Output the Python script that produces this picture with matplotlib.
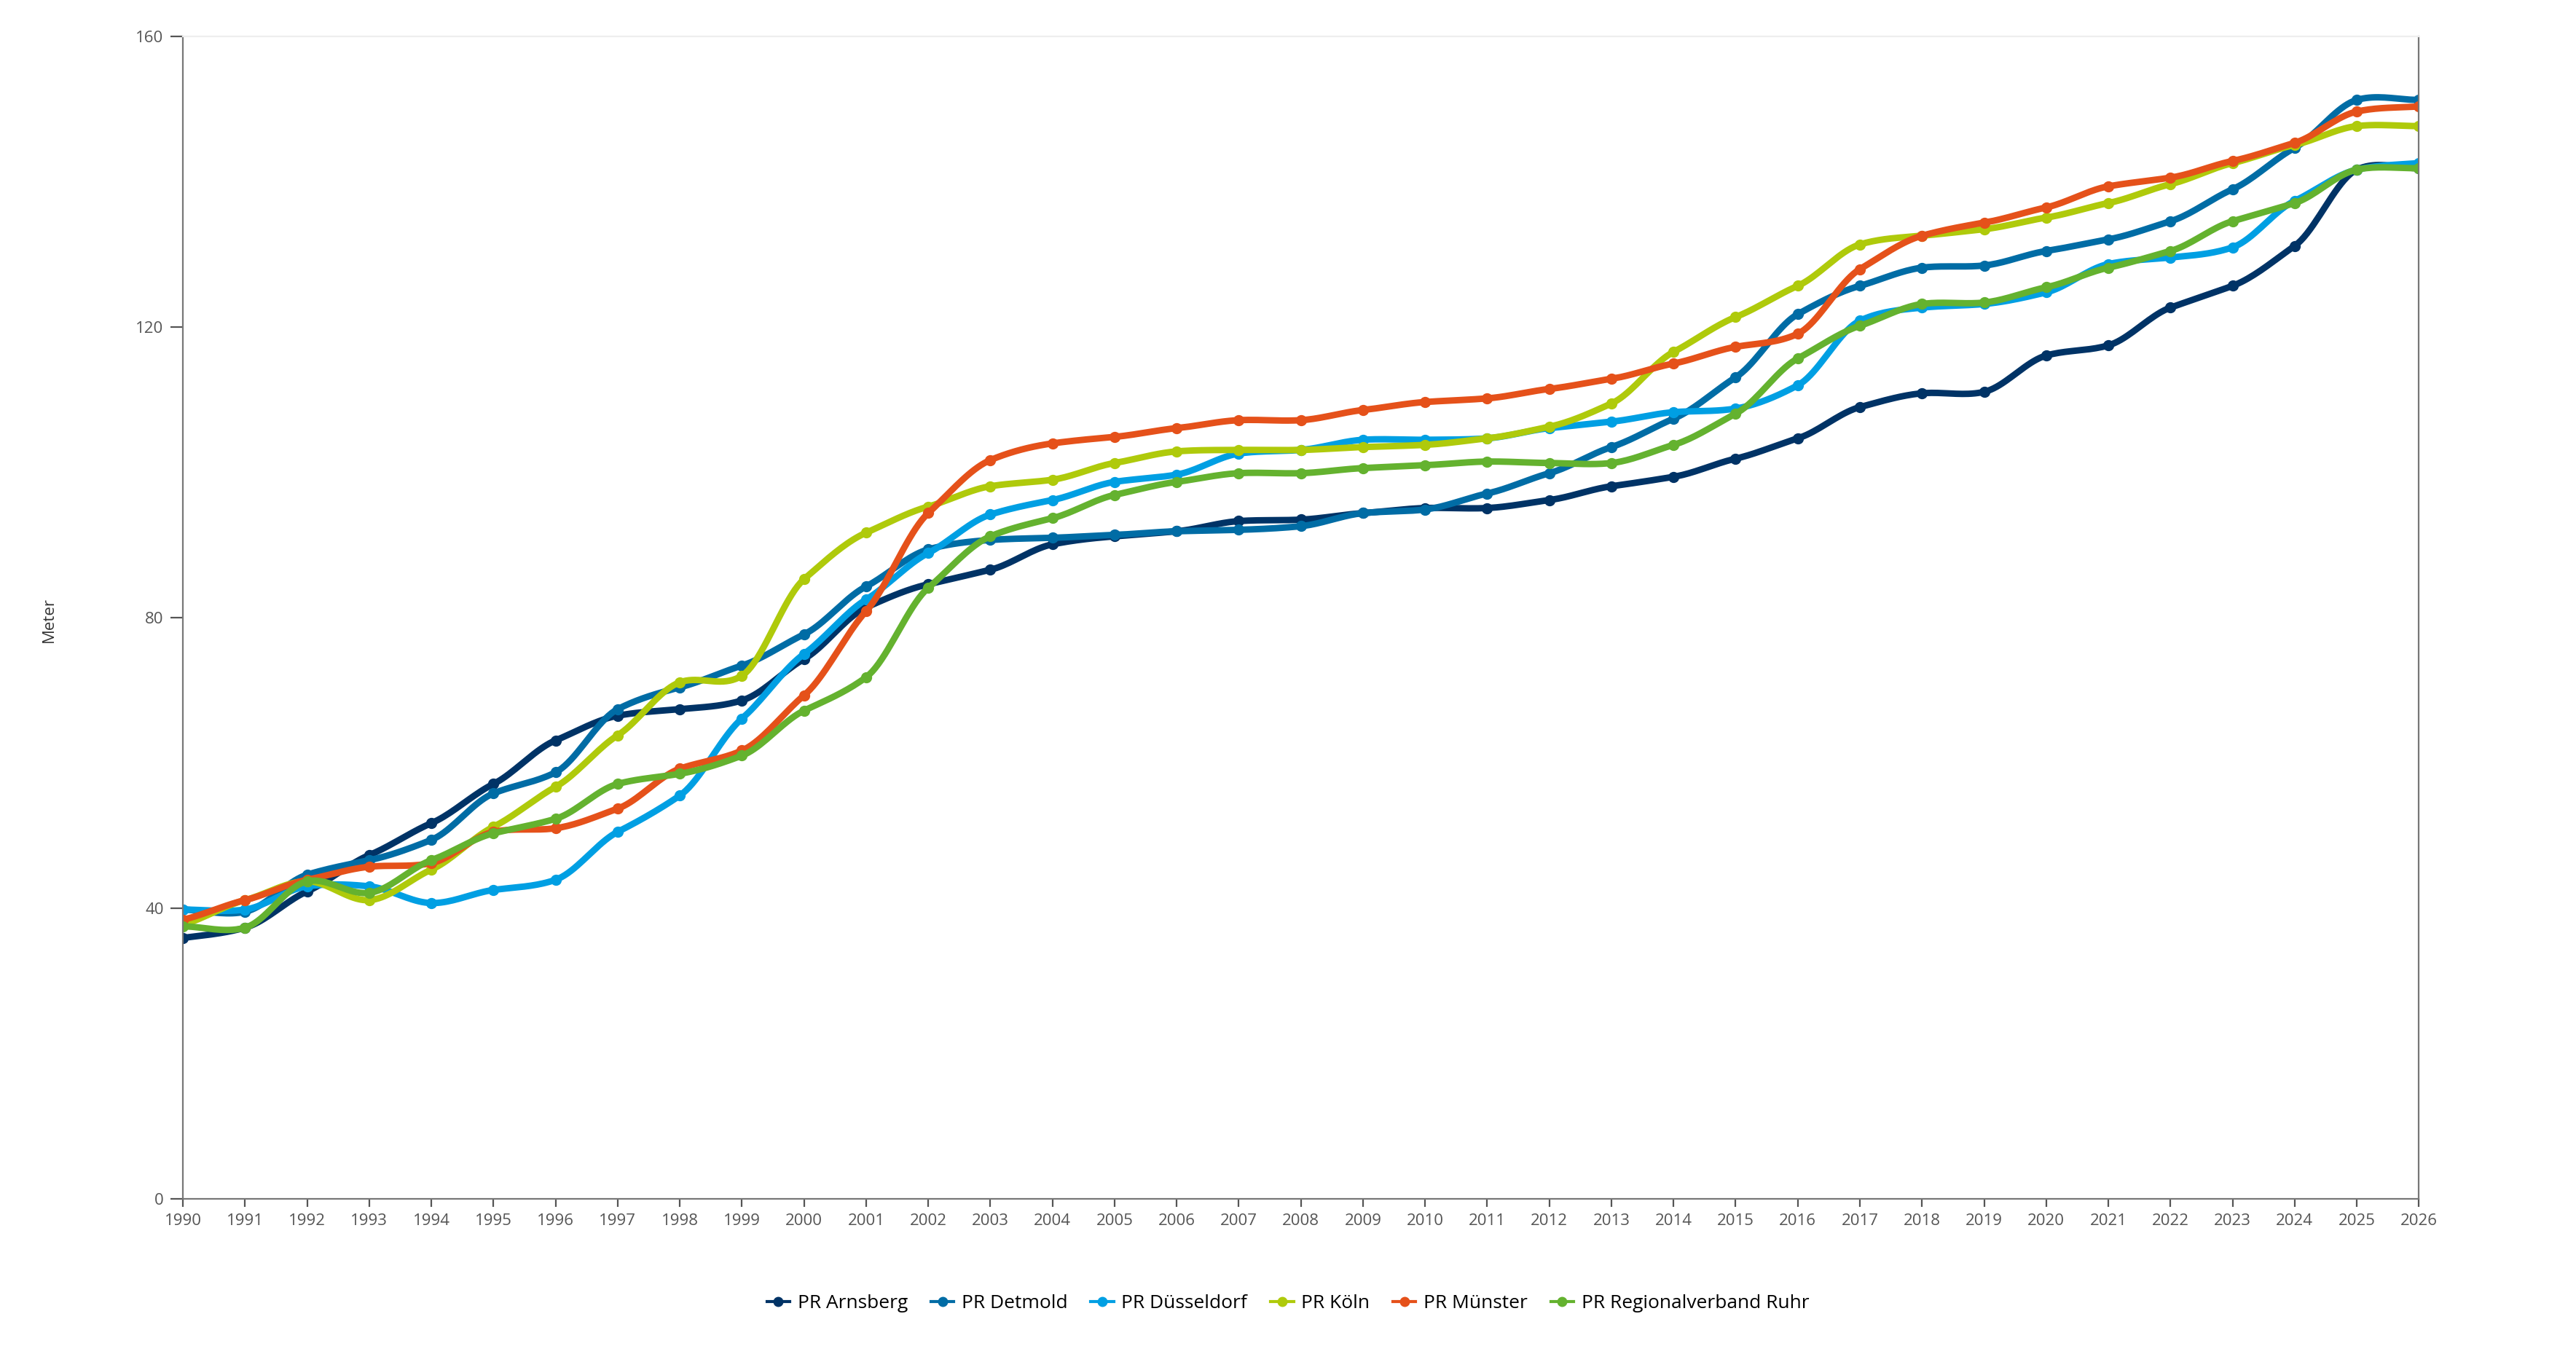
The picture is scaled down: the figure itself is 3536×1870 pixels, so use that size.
import numpy as np
import matplotlib
matplotlib.use("Agg")
import matplotlib.pyplot as plt

years = list(range(1990, 2027))

arnsberg = [35.9, 37.3, 42.3, 47.3, 51.7, 57.1, 63.1, 66.5, 67.4, 68.6, 74.3, 81.4, 84.6, 86.6,
            90.1, 91.2, 91.9, 93.3, 93.5, 94.4, 95.1, 95.1, 96.2, 98.1, 99.4, 101.9, 104.7,
            109.0, 110.9, 111.1, 116.1, 117.5, 122.7, 125.7, 131.2, 141.7, 141.9]
detmold = [39.8, 39.5, 44.6, 46.6, 49.4, 55.8, 58.7, 67.4, 70.4, 73.4, 77.7, 84.3, 89.4, 90.7,
           91.0, 91.4, 91.9, 92.1, 92.6, 94.4, 94.9, 97.1, 99.9, 103.5, 107.4, 113.1, 121.8,
           125.7, 128.2, 128.5, 130.5, 132.1, 134.6, 139.0, 144.7, 151.3, 151.3]
duesseldorf = [39.8, 39.8, 43.0, 43.0, 40.7, 42.5, 43.9, 50.5, 55.5, 66.1, 75.0, 82.5, 88.9, 94.2,
               96.2, 98.7, 99.7, 102.6, 103.1, 104.5, 104.5, 104.7, 106.1, 107.0, 108.3, 108.8,
               112.0, 120.9, 122.7, 123.2, 124.8, 128.7, 129.6, 131.0, 137.4, 141.7, 142.6]
koeln = [37.7, 41.1, 43.7, 41.1, 45.3, 51.2, 56.7, 63.8, 71.1, 72.0, 85.3, 91.7, 95.3, 98.1,
         99.0, 101.3, 102.9, 103.1, 103.1, 103.5, 103.8, 104.7, 106.3, 109.5, 116.6, 121.4,
         125.7, 131.4, 132.6, 133.5, 135.1, 137.1, 139.7, 142.6, 145.1, 147.7, 147.7]
muenster = [38.4, 41.1, 43.9, 45.7, 46.2, 50.5, 51.0, 53.7, 59.2, 61.7, 69.3, 80.9, 94.4, 101.7,
            104.0, 104.9, 106.1, 107.2, 107.2, 108.6, 109.7, 110.2, 111.5, 112.9, 115.0, 117.3,
            119.1, 128.0, 132.6, 134.4, 136.5, 139.4, 140.6, 142.9, 145.4, 149.7, 150.4]
ruhr = [37.5, 37.3, 43.7, 42.1, 46.6, 50.3, 52.3, 57.1, 58.5, 61.0, 67.2, 71.8, 84.1, 91.2,
        93.7, 96.9, 98.7, 99.9, 99.9, 100.6, 101.0, 101.5, 101.3, 101.3, 103.8, 108.1, 115.7,
        120.2, 123.2, 123.4, 125.5, 128.2, 130.5, 134.6, 137.1, 141.7, 141.9]

series = [
    ("PR Arnsberg", arnsberg, "#003366"),
    ("PR Detmold", detmold, "#006ca5"),
    ("PR Düsseldorf", duesseldorf, "#009fe3"),
    ("PR Köln", koeln, "#afca0b"),
    ("PR Münster", muenster, "#e5511a"),
    ("PR Regionalverband Ruhr", ruhr, "#64b22f"),
]


def smooth(x, y, n=20):
    # cardinal spline through the points, for the rounded line look
    x = np.asarray(x, float)
    y = np.asarray(y, float)
    m = np.zeros_like(y)
    m[1:-1] = (y[2:] - y[:-2]) / (x[2:] - x[:-2])
    m[0] = y[1] - y[0]
    m[-1] = y[-1] - y[-2]
    m *= 0.75
    xs, ys = [], []
    for i in range(len(x) - 1):
        t = np.linspace(0, 1, n, endpoint=False)
        h = x[i + 1] - x[i]
        h00 = 2 * t**3 - 3 * t**2 + 1
        h10 = t**3 - 2 * t**2 + t
        h01 = -2 * t**3 + 3 * t**2
        h11 = t**3 - t**2
        xs.append(x[i] + t * h)
        ys.append(h00 * y[i] + h10 * h * m[i] + h01 * y[i + 1] + h11 * h * m[i + 1])
    xs.append([x[-1]])
    ys.append([y[-1]])
    return np.concatenate(xs), np.concatenate(ys)


plt.rcParams["font.family"] = ["Open Sans", "DejaVu Sans"]
fig = plt.figure(figsize=(17.68, 9.35), dpi=200)
ax = fig.add_axes([0.071, 0.12, 0.868, 0.853])

handles = []
for name, vals, col in series:
    sx, sy = smooth(years, vals)
    ax.plot(sx, sy, color=col, lw=3.2, solid_capstyle="round")
    ax.plot(years, vals, "o", color=col, ms=4.5)
    h, = ax.plot([], [], "-o", color=col, lw=1.5, ms=4, label=name)
    handles.append(h)

ax.set_xlim(1990, 2026)
ax.set_ylim(0, 160)
ax.set_xticks(years)
ax.set_yticks([0, 40, 80, 120, 160])
ax.tick_params(labelsize=8, colors="#555555", length=4, width=0.8)
for s in ["left", "right", "bottom"]:
    ax.spines[s].set_color("#777777")
    ax.spines[s].set_linewidth(0.8)
ax.spines["top"].set_color("#eeeeee")
ax.tick_params(axis="y", length=6)
fig.text(0.019, 0.545, "Meter", rotation=90, ha="center", va="center", fontsize=8, color="#333333")

fig.legend(handles=handles, loc="center", bbox_to_anchor=(0.5, 0.043), ncol=6, frameon=False,
           fontsize=9.5, handlelength=1.2, columnspacing=1.2, handletextpad=0.4)

fig.savefig("out.png", dpi=200)
